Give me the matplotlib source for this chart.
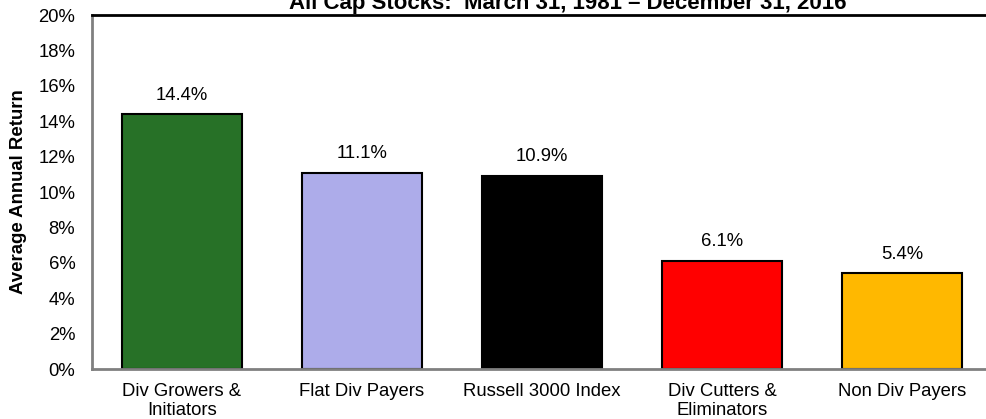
import matplotlib
matplotlib.use('Agg')
import matplotlib.pyplot as plt
from matplotlib.ticker import FuncFormatter

plt.rcParams['font.family'] = ['Liberation Sans', 'DejaVu Sans']

categories = ['Div Growers &\nInitiators', 'Flat Div Payers', 'Russell 3000 Index',
              'Div Cutters &\nEliminators', 'Non Div Payers']
returns = [14.4, 11.1, 10.9, 6.1, 5.4]
colors = ['#277127', '#adacea', '#000000', '#ff0000', '#ffb800']

fig = plt.figure(figsize=(9.87, 4.19), dpi=100)
ax = fig.add_axes([92 / 987, 50 / 419, 900 / 987, 354 / 419])

x = range(len(categories))
bars = ax.bar(x, returns, width=0.67, color=colors, edgecolor='black', linewidth=1.5)

for xi, v in zip(x, returns):
    ax.text(xi, v + 0.6, f'{v:.1f}%', ha='center', va='bottom', fontsize=13.3)

ax.set_xlim(-0.5, 4.5)
ax.set_ylim(0, 20)
ax.set_yticks(range(0, 21, 2))
ax.yaxis.set_major_formatter(FuncFormatter(lambda v, p: f'{int(v)}%'))
ax.set_xticks(list(x))
ax.set_xticklabels(categories, fontsize=13.3, linespacing=1.2)
ax.tick_params(axis='both', length=0, labelsize=13.3)
ax.tick_params(axis='x', pad=10)
ax.tick_params(axis='y', pad=12)

for s in ['left', 'bottom']:
    ax.spines[s].set_color('#808080')
    ax.spines[s].set_linewidth(2)
ax.spines['top'].set_color('black')
ax.spines['top'].set_linewidth(2)
ax.spines['right'].set_visible(False)

ax.set_ylabel('Average Annual Return', fontsize=13.4, fontweight='bold', labelpad=8)
fig.text(568 / 987, 1 - 9 / 419, 'All Cap Stocks:  March 31, 1981 \u2013 December 31, 2016',
         ha='center', va='baseline', fontsize=16, fontweight='bold')

fig.savefig('out.png', dpi=100)
